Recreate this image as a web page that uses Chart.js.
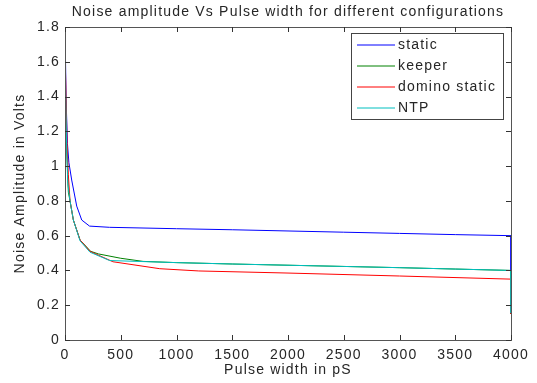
<!DOCTYPE html>
<html><head><meta charset="utf-8">
<script src="https://cdn.jsdelivr.net/npm/chart.js@4"></script>
<style>html,body{margin:0;padding:0;background:#fff;}canvas{display:block;}</style>
</head><body>
<canvas id="c" width="537" height="383"></canvas>
<script>
const titleText = 'Noise amplitude Vs Pulse width for different configurations';
const xTitle = 'Pulse width in pS';
const yTitle = 'Noise Amplitude in Volts';
const seriesNames = ['static', 'keeper', 'domino static', 'NTP'];
const seriesColors = ['#0000ff', '#008000', '#ff0000', '#00bfbf'];

const staticX = [0, 10, 22, 35, 60, 105, 150, 220, 400, 1000, 1500, 2000, 2500, 3000, 3500, 4000, 4000];
const staticY = [1.8, 1.38, 1.13, 1.02, 0.92, 0.77, 0.69, 0.655, 0.648, 0.64, 0.634, 0.627, 0.62, 0.613, 0.606, 0.60, 0.40];

const keeperX = [0, 15, 30, 45, 75, 135, 230, 300, 500, 700, 1000, 1500, 2000, 2500, 3000, 3500, 4000, 4000];
const keeperY = [1.55, 1.1, 0.85, 0.8, 0.69, 0.575, 0.51, 0.495, 0.47, 0.452, 0.445, 0.437, 0.43, 0.423, 0.416, 0.408, 0.40, 0.15];

const dominoX = [0, 18, 30, 45, 75, 135, 224, 430, 850, 1200, 2000, 3000, 4000, 4000];
const dominoY = [1.67, 1.14, 0.95, 0.8, 0.69, 0.575, 0.51, 0.45, 0.41, 0.397, 0.385, 0.368, 0.35, 0.15];

const ntpX = [0, 15, 25, 45, 75, 135, 224, 400, 1000, 1500, 2000, 2500, 3000, 3500, 4000, 4000];
const ntpY = [1.62, 1.1, 0.9, 0.8, 0.69, 0.57, 0.505, 0.457, 0.445, 0.437, 0.43, 0.423, 0.416, 0.408, 0.40, 0.155];

const xTicks = [0, 500, 1000, 1500, 2000, 2500, 3000, 3500, 4000];
const yTicks = [0, 0.2, 0.4, 0.6, 0.8, 1, 1.2, 1.4, 1.6, 1.8];

const FONT = '"Liberation Sans", Arial, Helvetica, sans-serif';
const FS = 14;
const LS = '1.2px';
const TXT = '#262626';

function pts(xs, ys) { return xs.map((x, i) => ({x: x, y: ys[i]})); }

const allX = [staticX, keeperX, dominoX, ntpX];
const allY = [staticY, keeperY, dominoY, ntpY];

const datasets = seriesNames.map((n, i) => ({
  label: n,
  data: pts(allX[i], allY[i]),
  borderColor: seriesColors[i],
  backgroundColor: seriesColors[i],
  borderWidth: 1,
  pointRadius: 0,
  tension: 0,
  fill: false,
  order: seriesNames.length - i
}));

const spacing = {
  id: 'spacing',
  beforeUpdate(chart) { chart.ctx.letterSpacing = LS; },
  beforeLayout(chart) { chart.ctx.letterSpacing = LS; },
  beforeDraw(chart) { chart.ctx.letterSpacing = LS; }
};

const frame = {
  id: 'frame',
  afterDraw(chart) {
    const ctx = chart.ctx;
    const a = chart.chartArea;
    const xs = chart.scales.x, ys = chart.scales.y;
    ctx.save();
    ctx.letterSpacing = LS;
    ctx.strokeStyle = '#555';
    ctx.lineWidth = 1;
    ctx.strokeRect(Math.round(a.left) + 0.5, Math.round(a.top) + 0.5, Math.round(a.right - a.left), Math.round(a.bottom - a.top));
    ctx.strokeStyle = '#333';
    const L = 5;
    ctx.beginPath();
    xTicks.forEach(v => {
      const px = Math.round(xs.getPixelForValue(v)) + 0.5;
      ctx.moveTo(px, a.bottom); ctx.lineTo(px, a.bottom - L);
      ctx.moveTo(px, a.top); ctx.lineTo(px, a.top + L);
    });
    yTicks.forEach(v => {
      const py = Math.round(ys.getPixelForValue(v)) + 0.5;
      ctx.moveTo(a.left, py); ctx.lineTo(a.left + L, py);
      ctx.moveTo(a.right, py); ctx.lineTo(a.right - L, py);
    });
    ctx.stroke();
    ctx.fillStyle = TXT;
    ctx.font = FS + 'px ' + FONT;
    ctx.textAlign = 'center';
    ctx.textBaseline = 'middle';
    ctx.fillText(titleText, (a.left + a.right) / 2, 12);
    const bx = 351, by = 33, bw = 152, bh = 86;
    ctx.fillStyle = '#fff';
    ctx.fillRect(bx, by, bw, bh);
    ctx.strokeStyle = '#444';
    ctx.strokeRect(bx + 0.5, by + 0.5, bw, bh);
    const rows = [45, 66, 87, 108];
    seriesNames.forEach((n, i) => {
      ctx.strokeStyle = seriesColors[i];
      ctx.beginPath();
      ctx.moveTo(357, rows[i]);
      ctx.lineTo(395, rows[i]);
      ctx.stroke();
      ctx.fillStyle = TXT;
      ctx.textAlign = 'left';
      ctx.textBaseline = 'middle';
      ctx.fillText(n, 398, rows[i]);
    });
    ctx.restore();
  }
};

new Chart(document.getElementById('c'), {
  type: 'line',
  data: { datasets: datasets },
  plugins: [spacing, frame],
  options: {
    responsive: false,
    animation: false,
    layout: { padding: { top: 27, right: 26, left: 0, bottom: 0 } },
    plugins: { legend: { display: false }, title: { display: false }, tooltip: { enabled: false } },
    scales: {
      x: {
        type: 'linear', min: 0, max: 4000,
        afterBuildTicks: s => { s.ticks = xTicks.map(v => ({value: v})); },
        afterFit: s => { s.height = 43; },
        grid: { display: false, drawTicks: false },
        border: { display: false },
        ticks: { color: TXT, font: { family: FONT, size: FS }, padding: 7, maxRotation: 0, callback: v => String(v) },
        title: { display: true, text: xTitle, color: TXT, font: { family: FONT, size: FS }, padding: { top: 0, bottom: 4 } }
      },
      y: {
        type: 'linear', min: 0, max: 1.8,
        afterBuildTicks: s => { s.ticks = yTicks.map(v => ({value: v})); },
        afterFit: s => { s.width = 65; },
        grid: { display: false, drawTicks: false },
        border: { display: false },
        ticks: { color: TXT, font: { family: FONT, size: FS }, padding: 5, callback: v => String(+v.toFixed(1)) },
        title: { display: true, text: yTitle, color: TXT, font: { family: FONT, size: FS }, padding: { top: 12, bottom: 0 } }
      }
    }
  }
});
</script>
</body></html>
